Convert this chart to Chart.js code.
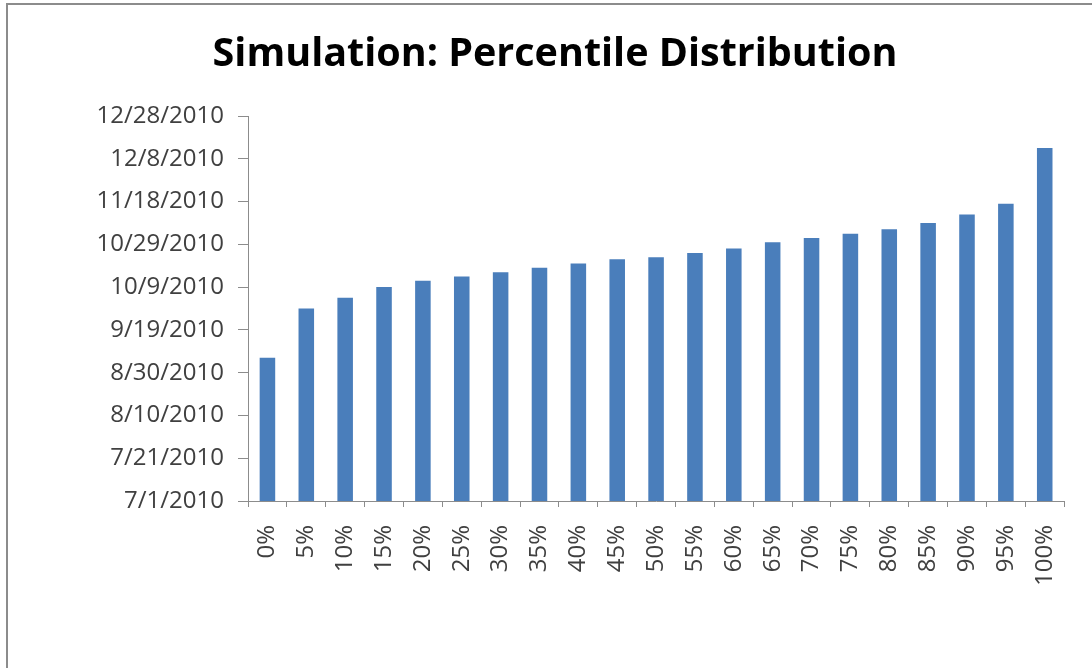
<!DOCTYPE html>
<html>
<head>
<meta charset="utf-8">
<script src="https://cdn.jsdelivr.net/npm/chart.js@4.4.1/dist/chart.umd.min.js"></script>
<style>
  html, body { margin: 0; padding: 0; background: #ffffff; overflow: hidden; }
  #wrap { position: relative; width: 1092px; height: 668px; }
  #frame {
    position: absolute; left: 6px; top: 3px; width: 1100px; height: 700px;
    border-left: 2px solid #8c8c8c; border-top: 2px solid #8c8c8c;
    box-sizing: border-box;
  }
  #c { position: absolute; left: 0; top: 0; }
</style>
</head>
<body>
<div id="wrap">
  <div id="frame"></div>
  <canvas id="c" width="1092" height="668"></canvas>
</div>
<script>
// Percentile buckets of the simulated completion dates
const percentiles = ['0%', '5%', '10%', '15%', '20%', '25%', '30%', '35%', '40%', '45%',
  '50%', '55%', '60%', '65%', '70%', '75%', '80%', '85%', '90%', '95%', '100%'];

// Simulated date reached at each percentile
const percentileDates = ['2010-09-06', '2010-09-29', '2010-10-04', '2010-10-09', '2010-10-12',
  '2010-10-14', '2010-10-16', '2010-10-18', '2010-10-20', '2010-10-22', '2010-10-23',
  '2010-10-25', '2010-10-27', '2010-10-30', '2010-11-01', '2010-11-03', '2010-11-05',
  '2010-11-08', '2010-11-12', '2010-11-17', '2010-12-13'];

// Value axis range and spacing
const axisStart = '2010-07-01';
const axisEnd = '2010-12-28';
const axisStepDays = 20;

const DAY = 86400000;
function toTime(s) {
  const [y, m, d] = s.split('-').map(Number);
  return Date.UTC(y, m - 1, d);
}
function fmtDate(t) {
  const d = new Date(t);
  return (d.getUTCMonth() + 1) + '/' + d.getUTCDate() + '/' + d.getUTCFullYear();
}

const labelFont = { family: '"Open Sans", Lato, sans-serif', size: 24 };

new Chart(document.getElementById('c'), {
  type: 'bar',
  data: {
    labels: percentiles,
    datasets: [{
      data: percentileDates.map(toTime),
      backgroundColor: '#4a7ebb',
      borderWidth: 0,
      barPercentage: 0.4,
      categoryPercentage: 1.0
    }]
  },
  options: {
    responsive: false,
    animation: false,
    events: [],
    layout: { padding: { left: 38, right: 20, top: 0, bottom: 0 } },
    plugins: {
      legend: { display: false },
      tooltip: { enabled: false },
      title: {
        display: true,
        text: 'Simulation: Percentile Distribution',
        color: '#000000',
        font: { family: '"Open Sans", Lato, sans-serif', size: 39.5, weight: 'bold', lineHeight: 1.2 },
        padding: { top: 31, bottom: 37.6 }
      }
    },
    scales: {
      x: {
        offset: true,
        grid: {
          offset: true,
          drawOnChartArea: false,
          drawTicks: true,
          tickLength: 6,
          color: '#8c8c8c'
        },
        border: { color: '#8c8c8c', width: 1 },
        ticks: {
          color: '#404040',
          font: labelFont,
          minRotation: 90,
          maxRotation: 90,
          padding: 18,
          autoSkip: false
        },
        afterFit(scale) { scale.height = 167; }
      },
      y: {
        min: toTime(axisStart),
        max: toTime(axisEnd),
        grid: {
          drawOnChartArea: false,
          drawTicks: true,
          tickLength: 10,
          color: '#8c8c8c'
        },
        border: { color: '#8c8c8c', width: 1 },
        ticks: {
          stepSize: axisStepDays * DAY,
          color: '#404040',
          font: labelFont,
          padding: 14,
          callback: (v) => fmtDate(v)
        },
        afterFit(scale) { scale.width = 210; }
      }
    }
  }
});
</script>
</body>
</html>
